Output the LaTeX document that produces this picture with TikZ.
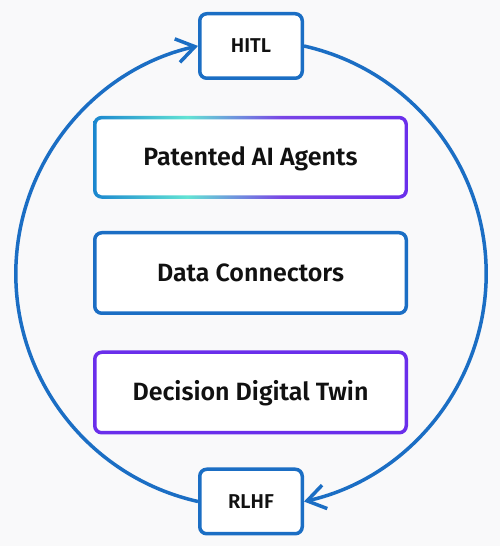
\documentclass[tikz,border=0pt]{standalone}
\usepackage{fontspec}
\setmainfont{Fira Sans}[BoldFont={Fira Sans SemiBold}]
\usetikzlibrary{arrows.meta, positioning}

\definecolor{canvas}{HTML}{F9F9FA}
\definecolor{ringblue}{HTML}{1B6EC4}
\definecolor{twinpurple}{HTML}{6A2EEB}
\definecolor{rimblue}{HTML}{1A86CF}
\definecolor{rimteal}{HTML}{62E3D4}
\definecolor{rimviolet}{HTML}{7A45E6}
\definecolor{inkblack}{HTML}{111111}
\pgfdeclarehorizontalshading{agentrim}{100bp}{color(0bp)=(rimblue); color(25bp)=(rimblue);
  color(40bp)=(rimteal); color(55bp)=(rimviolet); color(75bp)=(twinpurple); color(100bp)=(twinpurple)}

\begin{document}
\begin{tikzpicture}[x=1pt, y=1pt,
    >={Straight Barb[length=18pt, width=24pt]},
    every node/.style={text=inkblack},
    layer/.style={draw, line width=3.5pt, rounded corners=7pt, fill=white,
                  minimum width=311.5pt, minimum height=80.5pt,
                  text height=17pt, text depth=0pt,
                  font=\fontsize{25}{30}\selectfont\bfseries},
    agentbox/.style={shade, shading=agentrim, rounded corners=8.75pt,
                  minimum width=315pt, minimum height=83pt,
                  text height=17pt, text depth=-3pt,
                  font=\fontsize{25}{30}\selectfont\bfseries,
                  path picture={\fill[white, rounded corners=5.25pt]
                    ([shift={(3.5pt,3.5pt)}]path picture bounding box.south west) rectangle
                    ([shift={(-3.5pt,-3.5pt)}]path picture bounding box.north east);}},
    loopbox/.style={draw=ringblue, line width=3.5pt, rounded corners=7pt, fill=white,
                  minimum width=102.5pt, minimum height=64.5pt,
                  text height=14pt, text depth=0pt,
                  font=\fontsize{20}{24}\selectfont\bfseries},
    ring/.style={draw=ringblue, line width=3.5pt},
]
  \useasboundingbox[fill=canvas] (0,0) rectangle (500,546);

  % the three layers
  \node[layer, draw=ringblue] (connectors) at (250.5,273) {Data Connectors};
  \node[agentbox, above=32pt of connectors] (agents) {Patented AI Agents};
  \node[layer, draw=twinpurple, below=35.5pt of connectors] (twin) {Decision Digital Twin};

  % feedback loop
  \node[loopbox] (hitl) at (251,500) {HITL};
  \node[loopbox] (rlhf) at (251,44.5) {RLHF};
  \draw[ring, ->] (rlhf.west) arc[start angle=257.3, end angle=102.7, radius=233.5pt];
  \draw[ring, ->] (hitl.east) arc[start angle=77.3, end angle=-77.3, radius=233.5pt];
\end{tikzpicture}
\end{document}
